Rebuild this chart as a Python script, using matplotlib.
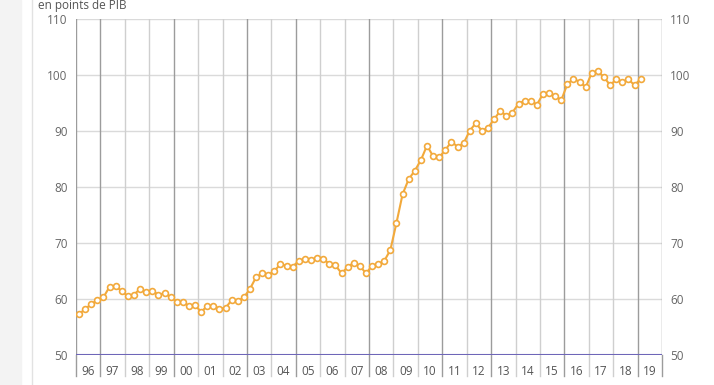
import matplotlib.pyplot as plt
import matplotlib.patches as mpatches
import matplotlib.lines as mlines

plt.rcParams['font.family'] = ['Open Sans', 'DejaVu Sans']

# dette publique, donnees trimestrielles (1996T1 - 2019T1)
years = list(range(1996, 2020))
year_labels = ['96', '97', '98', '99', '00', '01', '02', '03', '04', '05', '06', '07',
               '08', '09', '10', '11', '12', '13', '14', '15', '16', '17', '18', '19']
debt = [57.3, 58.2, 59.1, 59.8,
        60.3, 62.2, 62.3, 61.4,
        60.5, 60.8, 61.8, 61.2,
        61.4, 60.8, 61.0, 60.4,
        59.5, 59.4, 58.8, 58.9,
        57.7, 58.75, 58.75, 58.3,
        58.4, 59.8, 59.6, 60.3,
        61.8, 63.9, 64.6, 64.3,
        65.0, 66.25, 65.9, 65.8,
        66.8, 67.2, 67.0, 67.4,
        67.2, 66.25, 66.0, 64.6,
        65.7, 66.5, 65.9, 64.6,
        65.9, 66.25, 66.8, 68.75,
        73.6, 78.7, 81.4, 82.9,
        84.8, 87.4, 85.5, 85.3,
        86.6, 88.1, 87.2, 87.8,
        90.05, 91.4, 90.05, 90.6,
        92.1, 93.6, 92.7, 93.3,
        94.9, 95.4, 95.4, 94.7,
        96.6, 96.8, 96.25, 95.5,
        98.4, 99.3, 98.8, 97.8,
        100.4, 100.7, 99.6, 98.2,
        99.2, 98.8, 99.2, 98.2,
        99.3]
yticks = [50, 60, 70, 80, 90, 100, 110]
dark_years = [1996, 1997, 2000, 2003, 2005, 2008, 2011, 2013, 2016, 2019, 2020]

# position de chaque trimestre au milieu de sa periode
xq = [1996 + (i + 0.5) / 4.0 for i in range(len(debt))]

fig = plt.figure(figsize=(7.14, 3.85), dpi=100)
fig.patches.append(mpatches.Rectangle((0, 0), 21 / 714, 1, transform=fig.transFigure,
                                      color='#f3f3f3', zorder=0))
fig.lines.append(mlines.Line2D([32 / 714, 32 / 714], [0, 1], transform=fig.transFigure,
                               color='#e2e2e2', linewidth=1))

ax = fig.add_axes([76 / 714, 1 - 355 / 385, 586 / 714, 336 / 385])
ax.set_xlim(1996, 2020)
ax.set_ylim(50, 110)

for s in ax.spines.values():
    s.set_visible(False)

# grille horizontale
for v in yticks[1:]:
    ax.axhline(v, color='#dadada', linewidth=1, zorder=1)

# separateurs annuels (prolonges sous l'axe)
for y in years + [2020]:
    c = '#9c9c9c' if y in dark_years else '#cfcfcf'
    ax.plot([y, y], [50, 110], color=c, linewidth=1, zorder=1)
    ax.plot([y, y], [46.2, 50], color=c, linewidth=1, zorder=1, clip_on=False)

ax.axhline(50, color='#6e66b8', linewidth=1.5, zorder=2)

ax.plot(xq, debt, color='#f2a93b', linewidth=1.5, marker='o', markersize=4.2,
        markerfacecolor='white', markeredgecolor='#f2a93b', markeredgewidth=1.2, zorder=3)

ax.set_xticks([y + 0.5 for y in years])
ax.set_xticklabels(year_labels)
ax.tick_params(axis='x', length=0, pad=7, labelsize=8.5, labelcolor='#555555')

ax.set_yticks(yticks)
ax.tick_params(axis='y', length=0, pad=6, labelsize=8.5, labelcolor='#666666',
               labelright=True)

fig.text(38 / 714, 1 - 5 / 385, 'en points de PIB', fontsize=8.5, color='#555555',
         ha='left', va='center')

plt.savefig('out.png', dpi=100)
